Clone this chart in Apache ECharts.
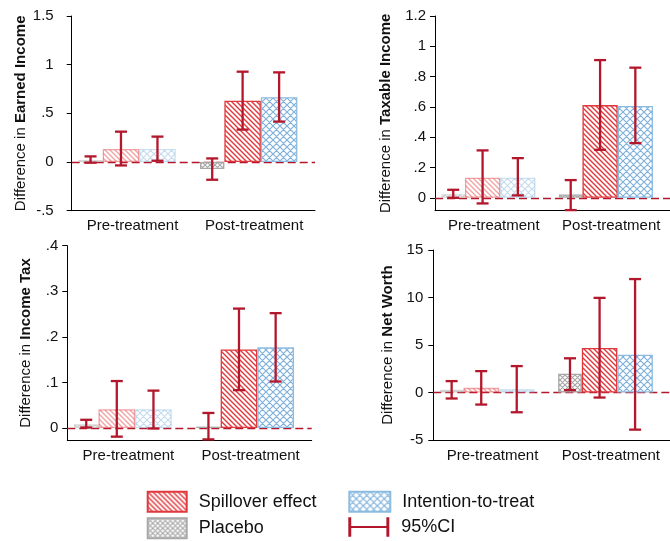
<!DOCTYPE html>
<html>
<head>
<meta charset="utf-8">
<script src="https://cdn.jsdelivr.net/npm/echarts@6/dist/echarts.min.js"></script>
<style>
  html, body { margin: 0; padding: 0; background: #fff; }
  #chart { width: 670px; height: 541px; }
</style>
</head>
<body>
<div id="chart"></div>
<script>
const categories = ['Pre-treatment', 'Post-treatment'];
const outcomes = ['Earned Income', 'Taxable Income', 'Income Tax', 'Net Worth'];

// point estimates, [pre, post]
const earnedPlacebo = [0.02, -0.072];
const earnedSpill = [0.134, 0.629];
const earnedItt = [0.134, 0.666];
const taxablePlacebo = [0.024, 0.022];
const taxableSpill = [0.132, 0.612];
const taxableItt = [0.132, 0.606];
const taxPlacebo = [0.008, 0.003];
const taxSpill = [0.041, 0.1725];
const taxItt = [0.041, 0.177];
const worthPlacebo = [0.28, 1.97];
const worthSpill = [0.49, 4.68];
const worthItt = [0.35, 3.98];

// 95% CI, [low, high] for pre and post
const earnedPlaceboCI = [[-0.007, 0.058], [-0.182, 0.037]];
const earnedSpillCI = [[-0.035, 0.312], [0.333, 0.928]];
const earnedIttCI = [[0.013, 0.261], [0.415, 0.921]];
const taxablePlaceboCI = [[0.0, 0.053], [-0.081, 0.117]];
const taxableSpillCI = [[-0.037, 0.313], [0.317, 0.909]];
const taxableIttCI = [[0.016, 0.262], [0.361, 0.859]];
const taxPlaceboCI = [[0.001, 0.018], [-0.025, 0.033]];
const taxSpillCI = [[-0.019, 0.103], [0.083, 0.262]];
const taxIttCI = [[-0.001, 0.082], [0.102, 0.252]];
const worthPlaceboCI = [[-0.63, 1.2], [0.25, 3.6]];
const worthSpillCI = [[-1.27, 2.25], [-0.53, 9.96]];
const worthIttCI = [[-2.08, 2.78], [-3.91, 11.94]];

// y tick labels
const earnedTicks = [-0.5, 0, 0.5, 1, 1.5];
const taxableTicks = [0, 0.2, 0.4, 0.6, 0.8, 1, 1.2];
const taxTicks = [0, 0.1, 0.2, 0.3, 0.4];
const worthTicks = [-5, 0, 5, 10, 15];

const panels = [
  { placebo: earnedPlacebo, spill: earnedSpill, itt: earnedItt,
    ci: [earnedPlaceboCI, earnedSpillCI, earnedIttCI], ticks: earnedTicks,
    min: -0.5, max: 1.5 },
  { placebo: taxablePlacebo, spill: taxableSpill, itt: taxableItt,
    ci: [taxablePlaceboCI, taxableSpillCI, taxableIttCI], ticks: taxableTicks,
    min: -0.085, max: 1.2 },
  { placebo: taxPlacebo, spill: taxSpill, itt: taxItt,
    ci: [taxPlaceboCI, taxSpillCI, taxIttCI], ticks: taxTicks,
    min: -0.027, max: 0.4 },
  { placebo: worthPlacebo, spill: worthSpill, itt: worthItt,
    ci: [worthPlaceboCI, worthSpillCI, worthIttCI], ticks: worthTicks,
    min: -5, max: 15 },
];

// layout of the four panels
const grids = [
  { left: 71.7, right: 355, top: 16, bottom: 330.3 },
  { left: 435, right: -10, top: 16, bottom: 330.3 },
  { left: 67.3, right: 358.3, top: 245.7, bottom: 100.7 },
  { left: 433.3, right: -8, top: 250, bottom: 101 },
];
const nameGaps = [43, 42, 34, 38];
const labelMargins = [18, 9, 9, 10];

const FONT = '"Liberation Sans", Arial, sans-serif';
const CI_RED = '#b3172c';
const PRE_OPACITY = 0.45;

// hatch fills
const makeHatch = (size, color, cross, lw) => {
  const c = document.createElement('canvas');
  c.width = size;
  c.height = size;
  const ctx = c.getContext('2d');
  ctx.fillStyle = '#fff';
  ctx.fillRect(0, 0, size, size);
  ctx.strokeStyle = color;
  ctx.lineWidth = lw;
  ctx.beginPath();
  // "\" direction
  ctx.moveTo(-1, -1); ctx.lineTo(size + 1, size + 1);
  ctx.moveTo(-1, size - 1); ctx.lineTo(1, size + 1);
  ctx.moveTo(size - 1, -1); ctx.lineTo(size + 1, 1);
  if (cross) {
    ctx.moveTo(size + 1, -1); ctx.lineTo(-1, size + 1);
    ctx.moveTo(1, -1); ctx.lineTo(-1, 1);
    ctx.moveTo(size + 1, size - 1); ctx.lineTo(size - 1, size + 1);
  }
  ctx.stroke();
  return { image: c, repeat: 'repeat' };
};

const spillFill = makeHatch(5, '#e0383c', false, 1.4);
const ittFill = makeHatch(7, '#80b2dc', true, 1.2);
const placeboFill = makeHatch(5, '#a5a5a5', true, 1.1);

const barShares = [0.2, 0.3, 0.3, 0.09];
const groupWidth = barShares.reduce((a, b) => a + b, 0);
const memberOffsets = barShares.map((s, i) =>
  -groupWidth / 2 + barShares.slice(0, i).reduce((a, b) => a + b, 0) + s / 2);

const fmt = (v) => {
  const s = String(+v.toFixed(3));
  return s.replace(/^(-?)0\./, '$1.');
};

const fade = (arr) => arr.map((v, j) => (j === 0 ? { value: v, itemStyle: { opacity: PRE_OPACITY } } : v));

const renderCI = (params, api) => {
  const cat = api.value(0);
  const lo = api.coord([cat, api.value(1)]);
  const hi = api.coord([cat, api.value(2)]);
  const band = api.size([1, 0])[0];
  const x = lo[0] + band * memberOffsets[api.value(3)];
  const cap = 6;
  const style = { stroke: CI_RED, lineWidth: 2.3, fill: null };
  return {
    type: 'group',
    children: [
      { type: 'line', shape: { x1: x, y1: lo[1], x2: x, y2: hi[1] }, style },
      { type: 'line', shape: { x1: x - cap, y1: lo[1], x2: x + cap, y2: lo[1] }, style },
      { type: 'line', shape: { x1: x - cap, y1: hi[1], x2: x + cap, y2: hi[1] }, style },
    ],
  };
};

const xAxes = [];
const yAxes = [];
const series = [];

panels.forEach((p, i) => {
  xAxes.push({
    type: 'category',
    gridIndex: i,
    data: categories,
    axisLine: { onZero: false, lineStyle: { color: '#000', width: 1 } },
    axisTick: { show: false },
    axisLabel: { interval: 0, hideOverlap: false, color: '#111', fontSize: 15, fontFamily: FONT, margin: 8 },
  });
  yAxes.push({
    type: 'value',
    gridIndex: i,
    min: p.min,
    max: p.max,
    name: '{n|Difference in }{b|' + outcomes[i] + '}',
    nameLocation: 'middle',
    nameRotate: 90,
    nameGap: nameGaps[i],
    nameTextStyle: {
      color: '#111',
      fontFamily: FONT,
      fontSize: 15,
      rich: {
        n: { fontSize: 15, fontFamily: FONT, color: '#111' },
        b: { fontSize: 15, fontFamily: FONT, color: '#111', fontWeight: 'bold' },
      },
    },
    axisLine: { show: true, lineStyle: { color: '#000', width: 1 } },
    axisTick: { show: true, length: 5, customValues: p.ticks, lineStyle: { color: '#000' } },
    axisLabel: {
      customValues: p.ticks,
      formatter: fmt,
      color: '#111',
      fontSize: 15,
      fontFamily: FONT,
      margin: labelMargins[i],
    },
    splitLine: { show: false },
  });

  const common = { type: 'bar', xAxisIndex: i, yAxisIndex: i, barGap: '0%', z: 2 };
  series.push({
    ...common,
    name: 'Placebo',
    barWidth: '20%',
    data: fade(p.placebo),
    itemStyle: { color: placeboFill, borderColor: '#a8a8a8', borderWidth: 1.3 },
  });
  series.push({
    ...common,
    name: 'Spillover effect',
    barWidth: '30%',
    data: fade(p.spill),
    itemStyle: { color: spillFill, borderColor: '#e0383c', borderWidth: 1.3 },
  });
  series.push({
    ...common,
    name: 'Intention-to-treat',
    barWidth: '30%',
    data: fade(p.itt),
    itemStyle: { color: ittFill, borderColor: '#8cbbe0', borderWidth: 1.3 },
  });
  // empty slot after the group, plus the dashed zero line
  series.push({
    ...common,
    name: 'spacer' + i,
    barWidth: '9%',
    z: 1,
    silent: true,
    data: [0, 0],
    itemStyle: { color: 'transparent', borderWidth: 0 },
    markLine: {
      silent: true,
      symbol: ['none', 'none'],
      label: { show: false },
      lineStyle: { color: CI_RED, type: [8, 4], width: 1.3 },
      data: [{ yAxis: 0 }],
      z: 1,
    },
  });

  const ciData = [];
  p.ci.forEach((member, m) => {
    member.forEach((range, j) => {
      ciData.push([j, range[0], range[1], m]);
    });
  });
  series.push({
    type: 'custom',
    name: '95%CI',
    xAxisIndex: i,
    yAxisIndex: i,
    z: 5,
    itemStyle: { color: CI_RED },
    renderItem: renderCI,
    encode: { x: 0, y: [1, 2] },
    data: ciData,
  });
});

const legendText = { color: '#111', fontSize: 18, fontFamily: FONT, padding: [0, 0, 0, 7] };
const ciIcon = 'path://M0,0H3V9H39V0H42V20H39V11H3V20H0Z';

const legendItem = (left, top, entry, w) => ({
  left: left,
  top: top,
  padding: 0,
  itemWidth: w,
  itemHeight: 20,
  selectedMode: false,
  textStyle: legendText,
  data: [entry],
});

const chart = echarts.init(document.getElementById('chart'));
chart.setOption({
  animation: false,
  backgroundColor: '#fff',
  grid: grids,
  xAxis: xAxes,
  yAxis: yAxes,
  legend: [
    legendItem(146.7, 490.7, { name: 'Spillover effect', icon: 'rect' }, 39),
    legendItem(146.7, 517.3, { name: 'Placebo', icon: 'rect' }, 39),
    legendItem(348.3, 490.7, { name: 'Intention-to-treat', icon: 'rect' }, 41),
    legendItem(348.3, 517.3,
      { name: '95%CI', icon: ciIcon, itemStyle: { color: CI_RED, borderWidth: 0 } }, 41),
  ],
  series: series,
});
</script>
</body>
</html>
